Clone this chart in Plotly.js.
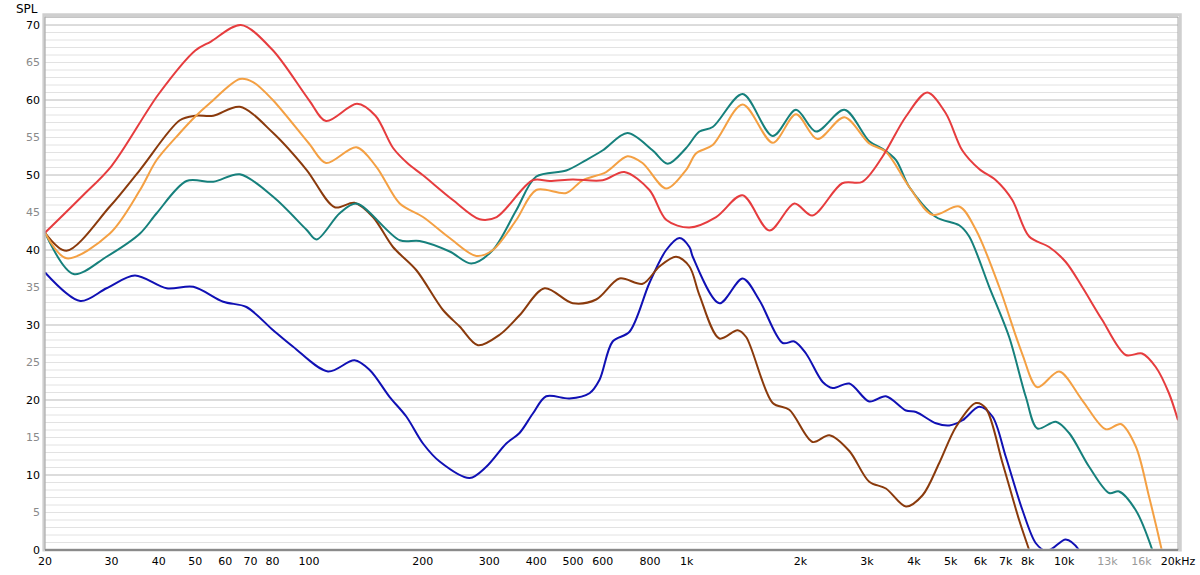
<!DOCTYPE html>
<html><head><meta charset="utf-8">
<script src="https://cdn.plot.ly/plotly-3.0.1.min.js"></script>
<style>html,body{margin:0;padding:0;background:#fff;}#chart{width:1200px;height:575px;}</style>
</head><body><div id="chart"></div>
<script>
// ---- data (frequency in Hz, SPL in dB) ----
const freqRed = [20,25,30,40,50,55,66,80,100,111,134,150,167,183,200,240,283,314,391,434,499,599,684,797,884,1017,1197,1405,1656,1928,2152,2582,2918,3296,3808,4337,4858,5366,5951,6589,7275,8071,9115,10090,11144,12590,14545,16065,17460,18927,20000];
const splRed  = [42.3,47.1,51.2,60.8,66.6,67.8,70.0,66.7,60.0,57.2,59.5,57.9,53.6,51.5,50.0,46.7,44.1,44.4,49.3,49.2,49.4,49.3,50.4,48.0,44.0,43.0,44.4,47.3,42.6,46.2,44.6,48.9,49.1,52.4,57.8,61.0,58.2,53.3,50.8,49.3,46.7,41.8,40.4,38.4,35.1,30.7,26.0,26.2,24.4,20.9,17.3];

const freqOrange = [20,22.8,29.7,35.7,39.5,45.5,50,54.7,65.6,71.1,80.2,100,111,133.5,150.8,173.9,200.4,235.8,277.5,307,353.9,399.8,480,530,612,697,764,883,997,1060,1172,1407,1690,1948,2218,2616,3044,3370,3886,4477,5268,5832,6722,7732,8490,9690,11144,12878,14112,15462,16766,18112,19000];
const splOrange  = [42.3,38.9,42.2,48.0,52.0,55.6,57.8,59.6,62.8,62.4,60.0,54.2,51.6,53.7,51.1,46.2,44.4,41.6,39.2,40.0,44.0,48.0,47.6,49.3,50.4,52.5,51.6,48.2,50.7,52.9,54.0,59.4,54.3,58.1,54.8,57.7,54.2,53.1,48.4,44.7,45.8,42.7,35.1,26.2,21.7,23.8,20.0,16.1,16.8,13.8,7.1,0,-5];

const freqTeal = [20,23.8,29.1,35.7,39.5,47.4,55.8,65.6,80.4,98.5,104.7,120.6,133.5,173.9,196.4,235.8,269,307,353.9,399.8,480,542,600,697,812,891,997,1081,1172,1407,1690,1948,2200,2616,3044,3302,3584,3886,4571,5268,5600,6325,7144,7910,8490,9498,10296,11634,13140,13966,15462,17102,18000];
const splTeal  = [42.3,36.8,39.1,42.2,44.9,49.2,49.1,50.1,47.1,42.7,41.4,44.9,46.2,41.3,41.2,39.8,38.2,40.0,45.3,49.8,50.6,52.0,53.3,55.6,53.3,51.5,53.6,55.8,56.4,60.8,55.2,58.7,55.8,58.7,54.5,53.5,52.0,48.4,44.4,43.3,41.8,35.1,28.4,20.4,16.2,17.1,15.6,11.1,7.6,7.8,5.3,0,-4];

const freqBrown = [20,22.8,29.7,35.7,45.5,50,55.8,65.6,80.4,98.5,117,132,147.7,166.9,192.5,226.4,250.6,280.2,319.8,361,420.6,499.6,576,664,765,847,938,1017,1081,1221,1365,1437,1690,1870,2156,2387,2696,3044,3370,3808,4214,4665,5164,5832,6198,6860,7592,8071,8578];
const splBrown  = [42.3,39.9,45.8,50.7,57.3,57.9,57.9,59.1,55.6,50.7,45.7,46.3,44.4,40.4,37.3,32.0,29.8,27.3,28.7,31.3,34.9,32.9,33.4,36.2,35.5,37.8,39.1,37.8,34.0,28.2,29.3,28.4,19.6,18.7,14.4,15.3,13.2,9.1,8.2,5.8,7.3,11.6,16.4,19.6,18.9,11.6,4.0,0,-4];

const freqBlue = [20,24.8,29.1,34.6,42,49.4,59.3,68.3,80.4,90.8,112.3,132,144.8,163.6,181,200.4,221.8,266.3,294.8,333,361,391.6,424.8,489.6,553,588,637,706,797,883,957,1017,1038,1221,1407,1558,1796,1928,2070,2292,2436,2696,3044,3370,3808,4048,4571,4958,5377,5951,6453,7003,7750,8406,8934,9300,10090,10944,11600];
const splBlue  = [37.0,33.2,34.9,36.6,34.9,35.1,33.1,32.4,29.3,27.1,23.8,25.3,24.0,20.4,17.8,14.2,11.8,9.6,11.1,14.2,15.6,18.2,20.5,20.2,20.9,22.7,27.8,29.1,35.6,40.0,41.6,40.4,39.1,32.9,36.2,33.3,27.6,27.8,26.2,22.4,21.6,22.2,19.8,20.5,18.6,18.4,16.9,16.6,17.3,19.1,17.8,12.4,5.3,0.9,-0.1,0.2,1.4,0.0,-3];

const seriesNames = ['red','orange','teal','brown','blue'];
const seriesColors = ['#e63c3e','#f4a043','#16807c','#8a3a0c','#1010b4'];

const xTickVals = [20,30,40,50,60,70,80,100,200,300,400,500,600,800,1000,2000,3000,4000,5000,6000,7000,8000,10000,13000,16000,20000];
const xTickText = ['20','30','40','50','60','70','80','100','200','300','400','500','600','800','1k','2k','3k','4k','5k','6k','7k','8k','10k','13k','16k','20kHz'];
const xTickGrey = [13000,16000];
const yTickVals = [0,5,10,15,20,25,30,35,40,45,50,55,60,65,70];

// ---- build ----
const xs = [freqRed,freqOrange,freqTeal,freqBrown,freqBlue];
const ys = [splRed,splOrange,splTeal,splBrown,splBlue];
const traces = xs.map((x,i)=>({
  type:'scatter', mode:'lines', x:x, y:ys[i], name:seriesNames[i],
  line:{color:seriesColors[i], width:2, shape:'spline', smoothing:0.9},
  hoverinfo:'skip'
}));
const order=[4,3,2,1,0];
const data = order.map(i=>traces[i]);

const shapes=[];
const lg=Math.log10;
for(let v=1; v<=71; v++){
  const major = v%10===0;
  shapes.push({type:'line',xref:'paper',x0:0,x1:1,yref:'y',y0:v,y1:v,layer:'below',
    line:{color: major?'#b9b9b9':'#e2e2e2', width:1}});
}
for(const d of [10,100,1000]){
  for(let m=2;m<=9;m++){
    const f=m*d; if(f<=20) continue;
    shapes.push({type:'line',xref:'x',x0:lg(f),x1:lg(f),yref:'paper',y0:0,y1:1,layer:'below',line:{color:'#bdbdbd',width:1}});
  }
}
for(let m=11;m<=19;m++){
  const f=m*1000;
  shapes.push({type:'line',xref:'x',x0:lg(f),x1:lg(f),yref:'paper',y0:0,y1:1,layer:'below',line:{color:'#e0e0e0',width:1}});
}
for(const f of [100,1000,10000]){
  shapes.push({type:'line',xref:'x',x0:lg(f),x1:lg(f),yref:'paper',y0:0,y1:1,layer:'below',line:{color:'#8c8c8c',width:1}});
}
shapes.push({type:'rect',xref:'paper',yref:'paper',x0:-0.001,x1:1.002,y0:0,y1:1.004,layer:'above',line:{color:'#cfcfcf',width:3}});
shapes.push({type:'rect',xref:'paper',yref:'paper',x0:0,x1:1,y0:0,y1:1,layer:'above',line:{color:'#a8a8a8',width:1}});
shapes.push({type:'line',xref:'paper',yref:'paper',x0:0,x1:1,y0:0,y1:0,layer:'above',line:{color:'#7a7a7a',width:1.5}});

const xText = xTickVals.map((v,i)=> xTickGrey.includes(v) ? `<span style="color:#9a9a9a">${xTickText[i]}</span>` : xTickText[i]);
const yText = yTickVals.map(v=> v%10===0 ? String(v) : `<span style="color:#8a8a8a">${v}</span>`);

const layout = {
  width:1200, height:575,
  margin:{l:45,r:22,t:17,b:25,pad:0},
  paper_bgcolor:'#ffffff', plot_bgcolor:'#ffffff',
  showlegend:false,
  font:{family:'DejaVu Sans, Verdana, sans-serif', size:11, color:'#000'},
  xaxis:{type:'log', range:[lg(20),lg(20000)], showgrid:false, zeroline:false,
    tickmode:'array', tickvals:xTickVals, ticktext:xText, ticks:'', showline:false,
    ticklabelstandoff:3, tickfont:{size:11,color:'#000'}, fixedrange:true},
  yaxis:{range:[0,71.07], showgrid:false, zeroline:false,
    tickmode:'array', tickvals:yTickVals, ticktext:yText, ticks:'', showline:false,
    ticklabelstandoff:4, tickfont:{size:11,color:'#000'}, fixedrange:true},
  shapes:shapes,
  annotations:[{text:'SPL', xref:'paper', yref:'paper', x:(27-45)/1133, y:1+(17-9)/533,
    xanchor:'center', yanchor:'middle', showarrow:false, font:{size:12,color:'#000'}}]
};
Plotly.newPlot('chart', data, layout, {staticPlot:true, displayModeBar:false});
</script>
</body></html>
